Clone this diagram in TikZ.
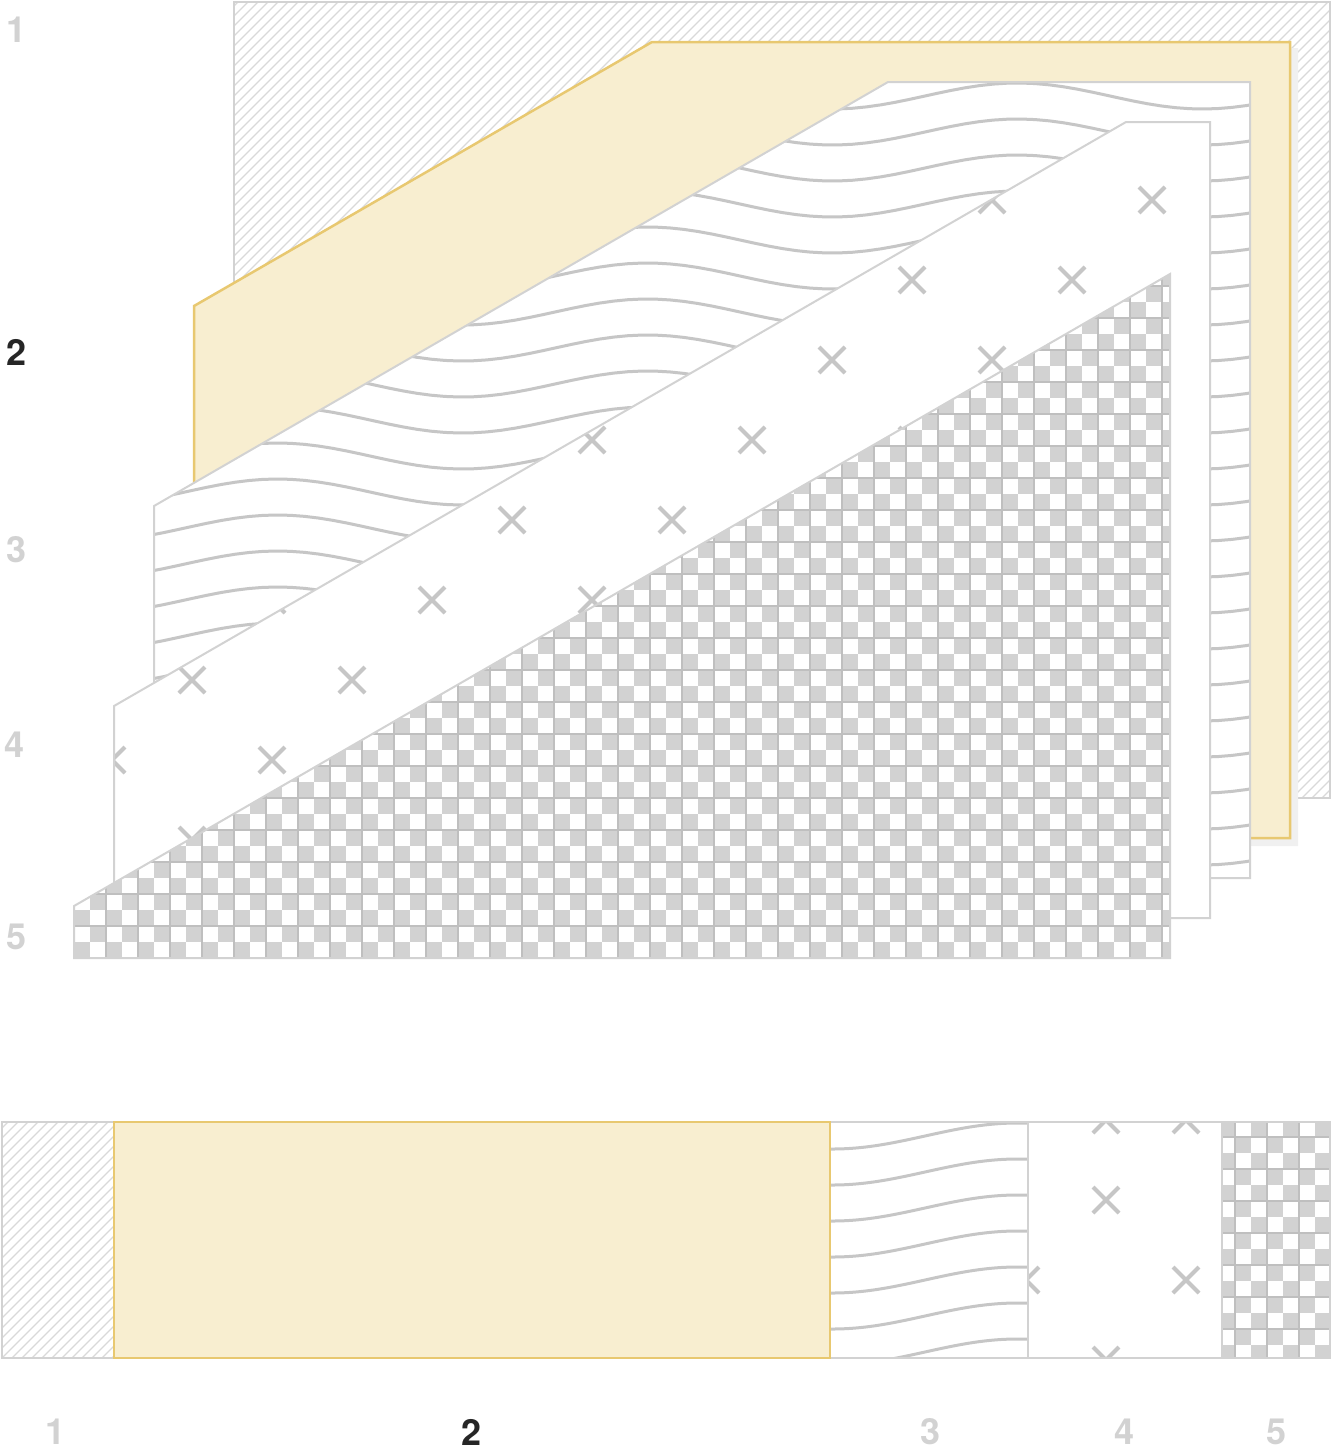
\documentclass[tikz,border=0pt]{standalone}
\usepackage{fontspec}
\setmainfont{TeX Gyre Heros}
\definecolor{yfill}{HTML}{F8EED0}
\definecolor{ydraw}{HTML}{E8C870}
\newcommand{\myhatch}[4]{% x1 y1 x2 y2
  \foreach \k in {-1600,-1590,...,1600}{\draw[hatchline] (#1+\k,#4) -- ++(#4-#2,#2-#4);}}
\newcommand{\mywaves}[5]{%
  \foreach \yy in {#2,#5,...,#4}{\draw[waveline] plot[domain=#1:#3,samples=80] (\x,{\yy+13*sin(0.973*\x)});}}
\newcommand{\myxs}{%
  \foreach \i in {0,...,17}{\foreach \j in {0,...,16}{%
    \pgfmathtruncatemacro{\pq}{mod(\i+\j,2)}%
    \ifnum\pq=0 \draw[xline] (32+80*\i-13,40+80*\j-13) -- ++(26,26) (32+80*\i-13,40+80*\j+13) -- ++(26,-26);\fi}}}
\begin{document}
\begin{tikzpicture}[x=1pt,y=-1pt,
  hatchline/.style={gray!30,line width=1.2},
  waveline/.style={gray!45,line width=3},
  xline/.style={gray!45,line width=4},
  gridl/.style={gray!50,line width=1.2},
  edge/.style={draw=gray!35,line width=2},
  yel/.style={fill=yfill,draw=ydraw,line width=2.5},
  lbl/.style={font=\fontsize{36}{36}\selectfont\bfseries,text=gray!35,anchor=center},
  lblb/.style={font=\fontsize{36}{36}\selectfont\bfseries,text=black!85,anchor=center}]
\useasboundingbox (0,0) rectangle (1332,1456);
% layer 1
\fill[white] (234,2) rectangle (1330,798);
\begin{scope}\clip (234,2) rectangle (1330,798); \myhatch{0}{0}{1332}{800} \end{scope}
\draw[edge] (234,2) rectangle (1330,798);
% layer 2 shadow + yellow
\fill[black!6] (200,312) -- (658,48) -- (1298,48) -- (1298,846) -- (200,846) -- cycle;
\path[yel] (194,306) -- (652,42) -- (1290,42) -- (1290,838) -- (194,838) -- cycle;
% layer 3 waves
\fill[white] (154,506) -- (888,82) -- (1250,82) -- (1250,878) -- (154,878) -- cycle;
\begin{scope}\clip (154,506) -- (888,82) -- (1250,82) -- (1250,878) -- (154,878) -- cycle;
\mywaves{150}{60}{1260}{900}{96}\end{scope}
\draw[edge] (154,506) -- (888,82) -- (1250,82) -- (1250,878) -- (154,878) -- cycle;
% layer 4 x marks
\fill[white] (114,706) -- (1126,122) -- (1210,122) -- (1210,918) -- (114,918) -- cycle;
\begin{scope}\clip (114,706) -- (1126,122) -- (1210,122) -- (1210,918) -- (114,918) -- cycle;
\myxs\end{scope}
\draw[edge] (114,706) -- (1126,122) -- (1210,122) -- (1210,918) -- (114,918) -- cycle;
% layer 5 checks
\fill[white] (74,906) -- (1170,274) -- (1170,958) -- (74,958) -- cycle;
\begin{scope}\clip (74,906) -- (1170,274) -- (1170,958) -- (74,958) -- cycle;
\foreach \i in {0,...,68}{\foreach \j in {0,...,43}{%
  \pgfmathtruncatemacro{\pp}{mod(\i+\j,2)}%
  \ifnum\pp=0 \fill[gray!35] (74+16*\i,958-16*\j) rectangle ++(16,-16);\fi}}
\foreach \i in {0,...,34}{\draw[gridl] (74+32*\i,958) -- ++(0,-700);}
\foreach \j in {0,...,22}{\draw[gridl] (74,958-32*\j) -- ++(1100,0);}
\end{scope}
\draw[edge] (74,906) -- (1170,274) -- (1170,958) -- (74,958) -- cycle;
% left labels
\node[lbl] (l1) at (17,30) {1};
\node[lblb] (l2) at (17,352) {2};
\node[lbl] (l3) at (17,550) {3};
\node[lbl] (l4) at (15,745) {4};
\node[lbl] (l5) at (17,937) {5};
% bottom bar
\begin{scope}\clip (2,1122) rectangle (114,1358); \myhatch{0}{1100}{140}{1380} \end{scope}
\draw[edge] (2,1122) rectangle (114,1358);
\begin{scope}\clip (830,1122) rectangle (1028,1358); \mywaves{820}{1100}{1040}{1380}{1136}\end{scope}
\draw[edge] (830,1122) rectangle (1028,1358);
\begin{scope}\clip (1028,1122) rectangle (1222,1358);
\foreach \p in {(1106,1120),(1186,1120),(1106,1200),(1026,1280),(1186,1280),(1106,1360)}{
 \draw[xline] \p ++(-13,-13) -- ++(26,26) \p ++(-13,13) -- ++(26,-26);}
\end{scope}
\draw[edge] (1028,1122) rectangle (1222,1358);
\begin{scope}\clip (1222,1122) rectangle (1330,1358);
\foreach \i in {0,...,7}{\foreach \j in {0,...,15}{%
  \pgfmathtruncatemacro{\pp}{mod(\i+\j,2)}%
  \ifnum\pp=0 \fill[gray!35] (1219+16*\i,1121+16*\j) rectangle ++(16,16);\fi}}
\foreach \i in {0,...,3}{\draw[gridl] (1235+32*\i,1120) -- ++(0,240);}
\foreach \j in {0,...,7}{\draw[gridl] (1220,1137+32*\j) -- ++(112,0);}
\end{scope}
\draw[edge] (1222,1122) rectangle (1330,1358);
\path[yel] (114,1122) rectangle (830,1358);
\node[lbl] (b1) at (56,1432) {1};
\node[lblb] (b2) at (472,1432) {2};
\node[lbl] (b3) at (930,1432) {3};
\node[lbl] (b4) at (1124,1432) {4};
\node[lbl] (b5) at (1276,1432) {5};
\end{tikzpicture}
\end{document}
